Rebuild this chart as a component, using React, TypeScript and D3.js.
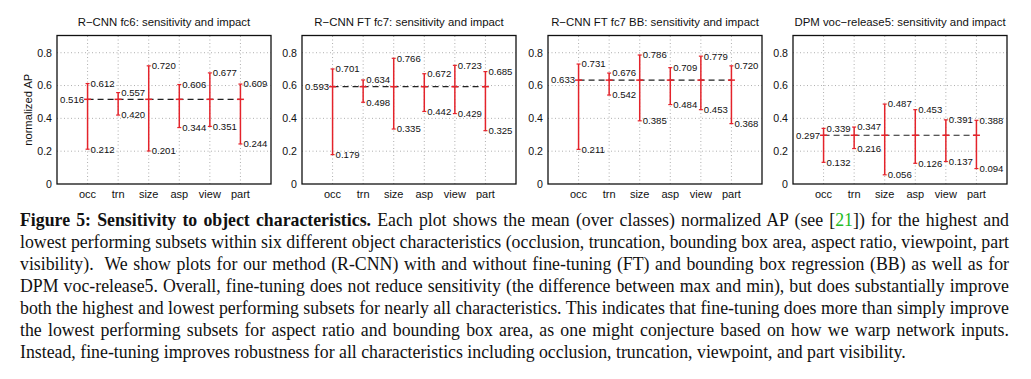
import React, { useEffect, useRef } from "react";
import * as d3 from "d3";

const categories = ["occ", "trn", "size", "asp", "view", "part"];
const titles = [
  "R\u2212CNN fc6: sensitivity and impact",
  "R\u2212CNN FT fc7: sensitivity and impact",
  "R\u2212CNN FT fc7 BB: sensitivity and impact",
  "DPM voc\u2212release5: sensitivity and impact",
];
const means = [0.516, 0.593, 0.633, 0.297];
const fc6Max = [0.612, 0.557, 0.72, 0.606, 0.677, 0.609];
const fc6Min = [0.212, 0.42, 0.201, 0.344, 0.351, 0.244];
const ftMax = [0.701, 0.634, 0.766, 0.672, 0.723, 0.685];
const ftMin = [0.179, 0.498, 0.335, 0.442, 0.429, 0.325];
const bbMax = [0.731, 0.676, 0.786, 0.709, 0.779, 0.72];
const bbMin = [0.211, 0.542, 0.385, 0.484, 0.453, 0.368];
const dpmMax = [0.339, 0.347, 0.487, 0.453, 0.391, 0.388];
const dpmMin = [0.132, 0.216, 0.056, 0.126, 0.137, 0.094];
const yTicks = [0, 0.2, 0.4, 0.6, 0.8];
const yTickLabels = ["0", "0.2", "0.4", "0.6", "0.8"];
const yLabel = "normalized AP";

const captionLines: { t: string; bold?: boolean; green?: boolean }[][] = [
  [
    { t: "Figure 5: Sensitivity to object characteristics.", bold: true },
    { t: " Each plot shows the mean (over classes) normalized AP (see [" },
    { t: "21", green: true },
    { t: "]) for the highest and" },
  ],
  [{ t: "lowest performing subsets within six different object characteristics (occlusion, truncation, bounding box area, aspect ratio, viewpoint, part" }],
  [{ t: "visibility).  We show plots for our method (R-CNN) with and without fine-tuning (FT) and bounding box regression (BB) as well as for" }],
  [{ t: "DPM voc-release5. Overall, fine-tuning does not reduce sensitivity (the difference between max and min), but does substantially improve" }],
  [{ t: "both the highest and lowest performing subsets for nearly all characteristics. This indicates that fine-tuning does more than simply improve" }],
  [{ t: "the lowest performing subsets for aspect ratio and bounding box area, as one might conjecture based on how we warp network inputs." }],
  [{ t: "Instead, fine-tuning improves robustness for all characteristics including occlusion, truncation, viewpoint, and part visibility." }],
];

const panels = [
  { title: titles[0], mean: means[0], maxs: fc6Max, mins: fc6Min },
  { title: titles[1], mean: means[1], maxs: ftMax, mins: ftMin },
  { title: titles[2], mean: means[2], maxs: bbMax, mins: bbMin },
  { title: titles[3], mean: means[3], maxs: dpmMax, mins: dpmMin },
];

const W = 1031;
const H = 379;
const panelLefts = [57, 302, 548, 793];
const panelW = 214;
const top = 35.5;
const bottom = 184;
const RED = "#e4232b";
const SANS = "'Liberation Sans', Arial, Helvetica, sans-serif";
const SERIF = "'Liberation Serif', 'Times New Roman', serif";
const capLeft = 20;
const capRight = 1009;
const capBase = 226;
const capLH = 21.95;
const capSize = 17.8;

function Panel({ p, left, showYLabel }: { p: typeof panels[0]; left: number; showYLabel: boolean }) {
  const x = d3.scaleLinear().domain([0, 7]).range([left, left + panelW]);
  const y = d3.scaleLinear().domain([0, 0.9]).range([bottom, 36.3]);
  const fmt = d3.format(".3f");
  return (
    <g>
      <text x={left + panelW / 2} y={26} textAnchor="middle" fontFamily={SANS} fontSize={11.4} fill="#111">
        {p.title}
      </text>
      {yTicks.slice(1).map((t) => (
        <line key={"hg" + t} x1={left} x2={left + panelW} y1={y(t)} y2={y(t)} stroke="#9a9a9a" strokeWidth={0.8} strokeDasharray="1,2.5" />
      ))}
      {categories.map((c, i) => (
        <line key={"vg" + c} x1={x(i + 1)} x2={x(i + 1)} y1={bottom} y2={top} stroke="#9a9a9a" strokeWidth={0.8} strokeDasharray="1,2.5" />
      ))}
      <line x1={x(1)} x2={x(6)} y1={y(p.mean)} y2={y(p.mean)} stroke="#222" strokeWidth={1.2} strokeDasharray="6,4" />
      {categories.map((c, i) => {
        const cx = x(i + 1);
        return (
          <g key={"b" + c}>
            <line x1={cx} x2={cx} y1={y(p.mins[i])} y2={y(p.maxs[i])} stroke={RED} strokeWidth={1.5} />
            <line x1={cx - 2} x2={cx + 2} y1={y(p.mins[i])} y2={y(p.mins[i])} stroke={RED} strokeWidth={1.2} />
            <line x1={cx - 2} x2={cx + 2} y1={y(p.maxs[i])} y2={y(p.maxs[i])} stroke={RED} strokeWidth={1.2} />
            <line x1={cx - 3.5} x2={cx + 3.5} y1={y(p.mean)} y2={y(p.mean)} stroke={RED} strokeWidth={1.5} />
            <text x={cx + 3} y={y(p.maxs[i])} dy="0.35em" fontFamily={SANS} fontSize={9.6} fill="#111">
              {fmt(p.maxs[i])}
            </text>
            <text x={cx + 3} y={y(p.mins[i])} dy="0.35em" fontFamily={SANS} fontSize={9.6} fill="#111">
              {fmt(p.mins[i])}
            </text>
            <text x={cx} y={197.5} textAnchor="middle" fontFamily={SANS} fontSize={11} fill="#111">
              {c}
            </text>
          </g>
        );
      })}
      <text x={x(1) - 3.5} y={y(p.mean)} dy="0.35em" textAnchor="end" fontFamily={SANS} fontSize={9.6} fill="#111">
        {fmt(p.mean)}
      </text>
      <rect x={left} y={top} width={panelW} height={bottom - top} fill="none" stroke="#111" strokeWidth={1.3} />
      {yTicks.map((t, i) => (
        <text key={"yt" + t} x={left - 5} y={y(t)} dy="0.36em" textAnchor="end" fontFamily={SANS} fontSize={10.6} fill="#111">
          {yTickLabels[i]}
        </text>
      ))}
      {showYLabel && (
        <text transform={`translate(32,${(top + bottom) / 2}) rotate(-90)`} textAnchor="middle" fontFamily={SANS} fontSize={11.2} fill="#111">
          {yLabel}
        </text>
      )}
    </g>
  );
}

export default function App() {
  const capRef = useRef<SVGGElement>(null);
  useEffect(() => {
    if (!capRef.current) return;
    d3.select(capRef.current)
      .selectAll<SVGTextElement, unknown>("text.just")
      .each(function () {
        const el = this as SVGTextElement;
        const natural = el.getComputedTextLength();
        const txt = el.textContent || "";
        const spaces = (txt.match(/ /g) || []).length;
        if (spaces > 0) {
          const ws = (capRight - capLeft - natural) / spaces;
          d3.select(el).attr("word-spacing", ws.toFixed(3));
        }
      });
  }, []);
  return (
    <svg width={W} height={H} style={{ position: "absolute", left: 0, top: 0, background: "#fff" }}>
      <rect width={W} height={H} fill="#fff" />
      {panels.map((p, i) => (
        <Panel key={i} p={p} left={panelLefts[i]} showYLabel={i === 0} />
      ))}
      <g ref={capRef}>
        {captionLines.map((line, li) => (
          <text
            key={li}
            className={li < captionLines.length - 1 ? "just" : ""}
            x={capLeft}
            y={capBase + li * capLH}
            fontFamily={SERIF}
            fontSize={capSize}
            fill="#111"
            style={{ whiteSpace: "pre" }}
          >
            {line.map((s, si) => (
              <tspan key={si} fontWeight={s.bold ? "bold" : "normal"} fill={s.green ? "#22bb22" : "#111"}>
                {s.t}
              </tspan>
            ))}
          </text>
        ))}
      </g>
    </svg>
  );
}
